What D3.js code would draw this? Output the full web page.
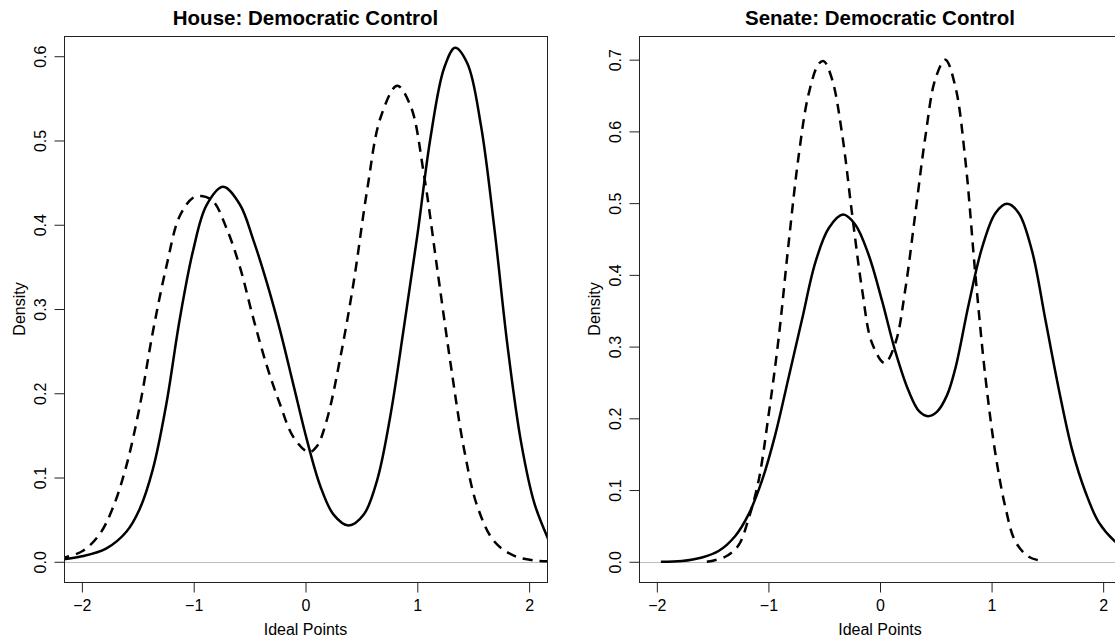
<!DOCTYPE html>
<html>
<head>
<meta charset="utf-8">
<script src="https://cdn.jsdelivr.net/npm/d3@7"></script>
<style>
  html, body { margin: 0; padding: 0; background: #fff; }
  svg { display: block; }
  text { font-family: "Liberation Sans", Arial, Helvetica, sans-serif; fill: #000; }
</style>
</head>
<body>
<svg id="chart" width="1115" height="640"></svg>
<script>
// ---------- data ----------
const panelTitles = ["House: Democratic Control", "Senate: Democratic Control"];
const xTickValues = [-2, -1, 0, 1, 2];
const houseYTicks = [0, 0.1, 0.2, 0.3, 0.4, 0.5, 0.6];
const senateYTicks = [0, 0.1, 0.2, 0.3, 0.4, 0.5, 0.6, 0.7];

const houseSolidX = [-2.2, -2.0, -1.78, -1.6, -1.485, -1.365, -1.245, -1.126, -1.006, -0.886, -0.737, -0.587, -0.467, -0.347, -0.228, -0.108, 0.012, 0.132, 0.251, 0.386, 0.521, 0.641, 0.76, 0.88, 1.0, 1.12, 1.24, 1.338, 1.449, 1.569, 1.689, 1.808, 1.928, 2.048, 2.2];
const houseSolidY = [0.0025, 0.0065, 0.016, 0.036, 0.062, 0.11, 0.187, 0.287, 0.369, 0.423, 0.445, 0.424, 0.382, 0.332, 0.275, 0.21, 0.145, 0.09, 0.056, 0.043, 0.056, 0.097, 0.174, 0.278, 0.387, 0.505, 0.586, 0.61, 0.591, 0.518, 0.396, 0.255, 0.142, 0.069, 0.018];

const houseDashX = [-2.2, -2.13, -1.99, -1.84, -1.72, -1.6, -1.485, -1.365, -1.245, -1.126, -1.006, -0.93, -0.826, -0.707, -0.587, -0.467, -0.347, -0.228, -0.108, 0.03, 0.102, 0.192, 0.311, 0.431, 0.551, 0.671, 0.82, 0.94, 1.06, 1.18, 1.3, 1.419, 1.539, 1.689, 1.868, 2.048, 2.2];
const houseDashY = [0.004, 0.006, 0.013, 0.033, 0.065, 0.115, 0.183, 0.273, 0.35, 0.41, 0.432, 0.434, 0.428, 0.396, 0.35, 0.289, 0.233, 0.187, 0.148, 0.13, 0.137, 0.169, 0.242, 0.332, 0.441, 0.527, 0.565, 0.541, 0.459, 0.346, 0.233, 0.133, 0.065, 0.024, 0.007, 0.0015, 0.0005];

const senateSolidX = [-1.964, -1.776, -1.596, -1.447, -1.297, -1.178, -1.058, -0.939, -0.819, -0.70, -0.58, -0.46, -0.332, -0.221, -0.102, 0.018, 0.138, 0.257, 0.35, 0.43, 0.51, 0.6, 0.676, 0.795, 0.915, 1.034, 1.139, 1.244, 1.363, 1.483, 1.602, 1.722, 1.842, 1.961, 2.11, 2.25];
const senateSolidY = [0.0, 0.001, 0.006, 0.015, 0.036, 0.066, 0.113, 0.177, 0.257, 0.337, 0.417, 0.465, 0.484, 0.47, 0.428, 0.364, 0.293, 0.238, 0.21, 0.203, 0.209, 0.232, 0.27, 0.359, 0.438, 0.486, 0.499, 0.486, 0.433, 0.337, 0.241, 0.156, 0.097, 0.055, 0.028, 0.014];

const senateDashX = [-1.552, -1.387, -1.268, -1.178, -1.088, -0.999, -0.909, -0.819, -0.729, -0.64, -0.55, -0.505, -0.43, -0.341, -0.251, -0.161, -0.072, 0.042, 0.138, 0.227, 0.317, 0.407, 0.496, 0.586, 0.676, 0.765, 0.855, 0.945, 1.034, 1.124, 1.214, 1.333, 1.468];
const senateDashY = [0.0, 0.007, 0.023, 0.06, 0.113, 0.204, 0.311, 0.444, 0.566, 0.652, 0.694, 0.698, 0.673, 0.598, 0.486, 0.38, 0.305, 0.277, 0.305, 0.38, 0.486, 0.593, 0.673, 0.70, 0.662, 0.56, 0.40, 0.257, 0.151, 0.076, 0.028, 0.007, 0.0005];

// ---------- layout ----------
const svg = d3.select("#chart");
const boxTop = 36, boxBottom = 582;
const fontAxis = 16, fontTitle = 20.5;

const panels = [
  { title: panelTitles[0], left: 64, right: 547, yDomain: [-0.024, 0.624], yTicks: houseYTicks,
    series: [{x: houseSolidX, y: houseSolidY, dash: null}, {x: houseDashX, y: houseDashY, dash: "10,7"}] },
  { title: panelTitles[1], left: 639, right: 1121, yDomain: [-0.0282, 0.733], yTicks: senateYTicks,
    series: [{x: senateSolidX, y: senateSolidY, dash: null}, {x: senateDashX, y: senateDashY, dash: "10,7"}] }
];

const minus = d => (d < 0 ? "\u2212" + Math.abs(d) : String(d));

panels.forEach((p, i) => {
  const x = d3.scaleLinear().domain([-2.16, 2.16]).range([p.left, p.right]);
  const y = d3.scaleLinear().domain(p.yDomain).range([boxBottom, boxTop]);
  const g = svg.append("g");

  const clipId = "clip" + i;
  svg.append("clipPath").attr("id", clipId)
    .append("rect").attr("x", p.left).attr("y", boxTop)
    .attr("width", p.right - p.left).attr("height", boxBottom - boxTop);

  // zero line
  g.append("line")
    .attr("x1", p.left).attr("x2", p.right)
    .attr("y1", Math.round(y(0)) + 0.5).attr("y2", Math.round(y(0)) + 0.5)
    .attr("stroke", "#bebebe").attr("stroke-width", 1)
    .attr("clip-path", `url(#${clipId})`);

  // curves
  const line = d3.line().x(d => x(d[0])).y(d => y(d[1])).curve(d3.curveCatmullRom.alpha(0.5));
  p.series.forEach(s => {
    const pts = s.x.map((v, k) => [v, s.y[k]]);
    g.append("path").datum(pts)
      .attr("d", line)
      .attr("fill", "none")
      .attr("stroke", "#000")
      .attr("stroke-width", 2.5)
      .attr("stroke-linejoin", "round")
      .attr("stroke-dasharray", s.dash)
      .attr("clip-path", `url(#${clipId})`);
  });

  // box
  g.append("rect")
    .attr("x", p.left + 0.5).attr("y", boxTop + 0.5)
    .attr("width", p.right - p.left).attr("height", boxBottom - boxTop)
    .attr("fill", "none").attr("stroke", "#222").attr("stroke-width", 1);

  // x axis
  const xa = g.append("g").attr("transform", `translate(0,${boxBottom + 0.5})`)
    .call(d3.axisBottom(x).tickValues(xTickValues).tickFormat(minus).tickSize(10).tickSizeOuter(0));
  xa.select(".domain").remove();
  xa.selectAll(".tick line").attr("stroke", "#222");
  xa.selectAll(".tick text").attr("font-size", fontAxis).attr("font-family", null)
    .attr("y", 23).attr("dy", "0.35em");

  // y axis
  const ya = g.append("g").attr("transform", `translate(${p.left + 0.5},0)`)
    .call(d3.axisLeft(y).tickValues(p.yTicks).tickFormat(d3.format(".1f")).tickSize(10).tickSizeOuter(0));
  ya.select(".domain").remove();
  ya.selectAll(".tick line").attr("stroke", "#222");
  ya.selectAll(".tick text").attr("font-size", fontAxis).attr("font-family", null)
    .attr("transform", "rotate(-90)")
    .attr("x", 0).attr("y", -24).attr("dy", "0.35em")
    .attr("text-anchor", "middle");

  // titles
  const cx = (p.left + p.right) / 2;
  g.append("text").attr("x", cx).attr("y", 18).attr("dy", "0.35em")
    .attr("text-anchor", "middle").attr("font-weight", "bold").attr("font-size", fontTitle)
    .text(p.title);
  g.append("text").attr("x", cx).attr("y", 629).attr("dy", "0.35em")
    .attr("text-anchor", "middle").attr("font-size", fontAxis)
    .text("Ideal Points");
  g.append("text")
    .attr("transform", `translate(${p.left - 45},${(boxTop + boxBottom) / 2}) rotate(-90)`)
    .attr("dy", "0.35em").attr("text-anchor", "middle").attr("font-size", fontAxis)
    .text("Density");
});
</script>
</body>
</html>
